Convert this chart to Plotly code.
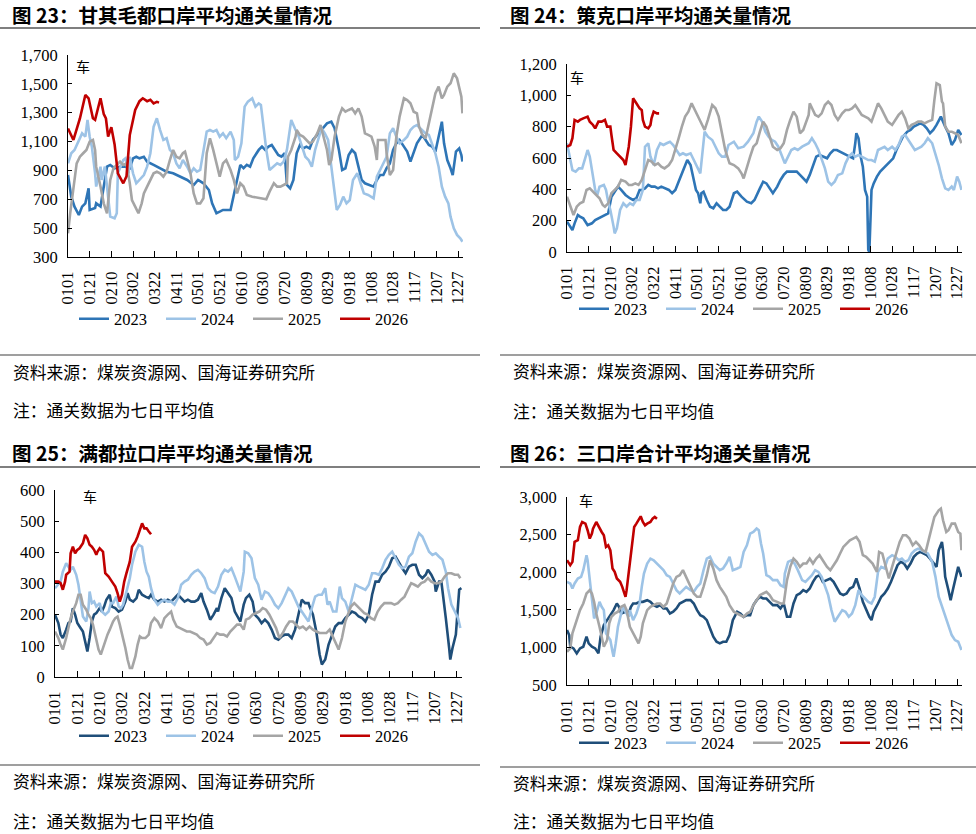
import plotly.graph_objects as go

W, H = 976, 834

# ---------------- shared axis categories ----------------
tick_days = list(range(0, 361, 20))
tick_labels = ["0101", "0121", "0210", "0302", "0322", "0411", "0501", "0521", "0610",
               "0630", "0720", "0809", "0829", "0918", "1008", "1028", "1117", "1207", "1227"]
years = ["2023", "2024", "2025", "2026"]

# ---------------- 图23 甘其毛都 (day index from 0101, value in 车) ----------------
gq_2023_day = [0,3,6,10,13,16,19,20,25,26,30,31,34,36,39,43,48,53,57,60,63,66,70,73,79,85,91,97,103,110,
               116,120,125,130,133,137,140,143,150,153,156,159,162,165,168,171,176,179,182,185,188,191,194,197,200,202,205,208,211,214,
               217,220,223,226,231,236,239,243,246,250,253,256,259,262,265,268,271,274,279,282,285,288,291,294,297,300,303,306,310,313,
               316,319,322,327,330,333,336,339,342,345,347,350,353,355,358,361,363,364]
gq_2023_val = [868,718,649,591,649,672,776,626,640,672,650,695,834,926,938,915,926,926,915,984,995,984,995,961,938,915,891,880,857,834,
               799,834,811,764,672,603,614,626,626,730,857,938,915,938,926,984,1042,1065,1042,1065,1076,1042,1007,995,1019,799,776,834,1019,1076,
               1053,1065,1053,1111,1157,1203,1226,1238,1192,1042,903,915,1007,1042,1019,926,834,811,799,788,834,868,868,915,949,1042,1088,1111,1065,1030,
               961,1019,1088,1146,1111,1076,1065,1030,1134,1238,1088,972,915,868,1030,1053,1007,961]
gq_2024_day = [0,3,6,10,13,16,18,20,22,25,26,30,31,34,36,39,43,45,46,51,53,56,57,60,63,66,70,73,76,79,
               82,85,88,91,94,97,100,103,106,110,113,116,119,122,125,128,131,134,137,140,143,146,150,153,154,157,160,163,166,170,
               173,176,178,180,183,186,190,193,196,199,202,206,210,213,216,219,222,225,228,231,234,237,240,243,246,248,251,254,257,260,
               263,267,270,273,277,282,285,288,291,294,297,300,303,306,310,313,316,319,322,327,330,333,336,339,342,345,348,351,353,356,
               359,362,364]
gq_2024_val = [949,1019,1042,1111,1157,1134,1250,1134,1065,880,788,926,834,926,788,580,568,603,880,972,984,880,995,880,811,834,868,926,1019,1203,
               1261,1180,1111,1123,1042,1019,949,915,972,926,880,915,891,903,1042,1169,1180,1169,1180,1134,1157,1123,1169,1111,972,995,1088,1342,1377,1400,
               1342,1365,1354,1226,1042,903,926,949,938,961,1042,1250,1180,1134,1065,995,972,926,1042,1111,1192,1157,1111,926,718,626,661,718,672,695,
               834,880,811,741,730,707,857,903,949,995,1157,1192,1134,1088,1111,1134,1180,1203,1215,1180,1157,1146,1088,1019,926,788,718,672,580,499,
               453,430,406]
gq_2025_day = [0,2,8,11,14,17,20,23,25,26,30,33,36,37,39,42,45,48,51,54,57,59,62,65,68,70,73,76,79,82,
               85,88,91,94,97,100,103,106,108,110,113,116,119,122,125,128,131,134,137,140,143,146,150,153,156,159,162,165,170,178,
               180,183,186,190,193,196,199,202,203,206,210,211,214,217,220,223,226,230,233,236,239,241,243,246,250,253,256,259,262,265,
               268,271,274,277,280,283,285,286,290,293,294,297,300,303,306,310,313,316,319,322,324,327,330,333,336,339,342,345,347,350,
               353,356,359,362,363,364]
gq_2025_val = [464,603,949,995,1019,1042,1100,1111,1042,926,788,672,603,695,834,915,938,961,938,949,811,695,649,603,672,741,788,834,880,891,
               880,857,891,972,1042,995,984,1019,1030,972,880,741,672,672,707,1019,1123,1042,949,857,949,972,903,834,741,811,788,730,718,707,
               707,700,753,811,788,788,799,811,995,1042,1134,1180,1146,1134,1111,1088,1100,1157,1215,1134,1042,938,972,1134,1273,1330,1307,1319,1330,1296,
               1330,1273,1157,1146,1134,1065,972,1111,1111,1111,1019,868,903,1134,1273,1400,1388,1365,1307,1296,1203,1146,1123,1226,1342,1434,1481,1400,1423,1481,
               1504,1573,1538,1434,1411,1296]
gq_2026_day = [0,5,11,16,19,23,25,30,33,35,37,40,43,46,51,54,57,62,66,69,73,76,79,82,84]
gq_2026_val = [1190,1111,1260,1423,1400,1261,1250,1400,1290,1260,1134,1200,1080,880,811,860,1145,1319,1380,1400,1380,1390,1365,1375,1370]

# ---------------- 图24 策克 ----------------
ck_2023_day = [0,3,5,7,10,12,15,19,23,26,29,32,35,38,41,44,47,50,54,58,61,64,67,69,72,75,78,81,84,87,
               90,94,97,100,103,106,109,111,114,116,119,121,123,124,126,129,132,135,138,141,144,147,
               150,154,157,161,166,170,173,178,181,184,187,190,194,197,200,203,206,209,212,215,218,221,224,227,230,233,236,240,243,246,
               249,252,255,258,261,264,266,267,269,271,273,275,277,278,279,280,281,283,286,289,292,295,298,301,304,307,310,314,317,320,
               323,326,329,332,335,338,341,345,349,352,355,358,361,364]
ck_2023_val = [194,162,140,183,236,226,215,172,183,204,215,226,236,247,353,385,417,396,364,343,332,343,396,396,406,428,417,417,406,417,
               406,396,375,396,449,502,555,587,555,481,396,375,311,375,385,332,289,279,311,289,268,268,
               289,375,385,353,321,311,332,406,449,438,406,375,417,460,492,513,513,513,513,492,470,449,492,555,609,619,609,598,630,651,
               651,641,630,619,609,598,694,758,726,609,545,396,353,13,0,226,396,438,481,513,534,555,577,598,651,694,736,768,779,800,
               811,821,811,789,758,779,811,864,800,758,683,715,779,747]
ck_2024_day = [0,3,5,8,11,14,17,19,21,24,26,28,30,34,36,38,40,43,44,46,49,52,55,58,61,64,67,70,72,75,
               77,80,83,86,89,92,95,98,101,104,107,110,114,117,120,123,127,130,134,137,140,143,146,149,
               154,158,163,167,172,175,177,180,183,186,189,192,195,198,201,204,207,210,213,217,220,223,226,229,232,235,238,241,244,247,
               250,254,257,260,263,266,269,272,275,278,281,284,287,290,293,296,300,303,306,309,312,315,318,321,324,327,330,333,337,340,
               343,346,349,352,355,357,360,362,364]
ck_2024_val = [694,587,523,513,534,534,609,651,609,481,396,364,417,428,396,321,268,162,119,151,268,311,289,311,300,332,332,396,672,694,
               609,555,651,694,683,694,704,683,651,619,630,619,630,587,545,502,768,736,715,672,630,609,609,683,
               704,662,672,704,758,832,864,832,768,736,715,704,672,619,566,609,651,662,651,672,683,694,726,694,651,587,534,449,428,449,
               492,502,566,609,630,609,619,609,598,587,587,577,651,662,672,651,672,651,683,736,747,715,683,651,662,672,694,726,694,630,
               555,470,406,396,417,396,481,449,396]
ck_2025_day = [0,3,6,9,12,15,18,21,24,27,30,33,35,38,41,44,47,50,54,57,60,63,66,69,72,75,78,81,84,87,
               90,94,97,100,103,106,109,112,115,118,121,124,127,130,134,137,140,143,146,
               150,154,158,161,163,166,169,172,175,178,181,184,187,190,194,197,200,203,206,209,212,215,218,221,223,224,226,229,232,235,
               238,241,244,247,250,254,257,260,263,266,269,272,275,278,281,284,287,290,293,296,300,303,306,309,312,315,318,321,324,327,
               330,333,337,339,341,344,346,347,349,352,355,358,361,364]
ck_2025_val = [353,289,236,289,311,321,396,406,385,364,343,300,289,311,375,396,417,460,449,428,428,438,428,460,523,587,577,555,566,545,
               534,555,587,651,726,800,864,896,949,906,864,821,779,843,938,917,864,758,651,
               566,555,534,502,470,545,609,672,694,768,832,800,736,672,651,662,694,779,843,896,864,758,779,843,875,949,917,875,864,885,
               938,960,938,875,843,885,906,906,917,938,906,875,864,853,832,885,949,917,875,832,811,843,875,896,853,789,811,821,832,832,
               821,832,843,970,1077,1066,960,949,800,768,768,758,747,694]
ck_2026_day = [0,3,5,7,10,12,15,19,21,24,26,29,32,35,37,40,41,43,46,49,52,54,57,59,61,64,67,69,70,72,75,77,78,80,83,85]
ck_2026_val = [672,683,726,843,832,843,853,864,832,811,789,832,832,843,800,800,747,651,630,609,587,555,672,800,981,949,917,906,843,800,
               789,811,853,896,885,885]

# ---------------- 图25 满都拉 ----------------
mdl_2023_day = [0,3,5,7,10,12,14,16,18,20,22,25,27,29,31,33,35,37,40,42,44,46,49,51,54,57,60,63,65,67,
                70,73,75,78,81,84,86,89,92,95,98,101,104,107,110,113,116,119,122,125,128,131,133,136,139,142,145,146,149,152,
                155,158,161,
                166,169,171,174,177,179,182,185,188,191,194,197,200,203,206,209,212,215,218,221,224,227,228,231,234,237,239,242,245,248,
                251,254,257,260,263,266,269,272,275,278,281,284,287,290,293,296,299,302,305,308,311,314,317,320,323,326,329,332,334,337,
                340,341,344,346,348,350,353,354,356,359,361,362,364]
mdl_2023_val = [200,173,136,125,152,173,178,221,200,173,162,146,114,82,125,178,200,205,221,210,226,248,264,226,221,210,216,242,269,248,
                242,253,280,264,258,253,264,248,242,248,242,248,242,253,264,253,242,248,242,242,248,269,242,216,184,200,221,210,253,285,
                269,253,210,
                178,232,253,264,242,200,189,173,184,173,152,125,120,130,136,136,125,152,200,248,237,237,226,200,146,72,40,56,104,130,
                162,173,173,189,200,210,205,194,189,178,200,264,306,306,328,338,354,381,386,365,349,333,354,360,360,328,317,328,344,328,
                306,274,306,306,253,189,93,56,93,136,232,280,285]
mdl_2024_day = [0,3,5,7,10,12,14,16,19,21,23,25,28,30,31,33,35,37,40,42,45,48,50,52,55,57,59,61,64,67,
                69,72,75,78,80,82,84,86,89,92,95,98,101,104,107,110,113,116,119,122,125,128,131,134,137,140,143,146,149,152,
                155,158,161,
                166,169,170,173,176,179,182,185,188,191,194,197,200,203,206,209,212,215,218,221,224,227,230,233,236,239,242,244,246,249,
                252,255,257,260,263,266,269,272,275,278,281,284,287,290,293,296,299,302,305,308,311,314,317,320,323,326,329,332,335,338,
                341,344,347,350,352,355,358,361,363]
mdl_2024_val = [285,296,306,338,365,354,344,354,328,296,242,194,178,221,274,237,242,226,237,210,200,210,237,237,258,226,221,232,274,317,
                360,402,424,418,370,338,322,285,248,232,242,248,242,242,232,253,296,306,312,328,338,344,333,317,285,274,269,290,328,344,
                338,349,322,
                274,338,402,397,381,317,296,248,274,269,253,232,221,237,264,285,274,248,226,210,194,178,221,258,264,264,285,232,242,210,
                210,290,253,242,210,253,296,290,285,280,296,333,333,328,349,376,392,402,381,360,349,354,386,397,434,461,451,424,402,392,
                397,386,376,338,285,232,210,189,157]
mdl_2025_day = [0,3,5,7,10,12,14,16,19,21,23,25,28,30,32,34,37,39,41,43,45,47,49,52,54,56,58,61,63,65,
                67,69,72,74,76,78,81,84,86,89,92,95,98,101,104,106,109,112,115,118,121,124,127,130,133,136,139,142,145,148,
                151,154,157,160,163,
                166,169,171,174,177,180,183,186,189,192,195,198,201,204,207,210,213,216,219,222,225,228,231,234,237,240,243,246,249,252,
                254,257,260,263,265,268,271,274,277,280,283,286,289,292,295,298,301,304,307,310,313,316,319,322,325,328,331,334,337,340,
                343,346,349,352,355,358,361,363]
mdl_2025_val = [146,125,104,88,125,162,189,210,237,264,264,232,216,200,189,168,125,88,72,93,120,136,152,178,189,194,168,125,93,56,
                29,29,66,104,130,125,125,136,173,189,178,157,189,200,210,184,162,157,152,146,146,141,136,125,120,104,109,125,141,136,
                136,130,146,157,168,
                168,152,184,189,200,205,210,221,216,200,178,157,125,141,162,178,178,168,157,162,152,162,152,146,141,141,141,152,125,104,
                88,125,178,210,226,237,226,216,205,200,189,184,210,226,237,237,237,232,237,248,258,280,301,296,290,301,306,317,306,301,
                301,306,322,333,333,328,328,317]
mdl_2026_day = [0,3,5,7,9,10,13,14,16,18,20,22,25,27,29,31,33,35,37,38,40,43,45,48,51,54,56,58,60,62,64,67,69,72,74,76,78,80,82,84,86]
mdl_2026_val = [306,306,301,280,306,328,338,397,418,397,408,413,429,456,445,424,418,408,392,402,413,402,333,322,306,290,269,242,264,306,
                333,370,418,434,451,472,493,477,477,467,458]

# ---------------- 图26 三口岸合计 ----------------
sk_2023_day = [0,2,3,6,9,12,15,18,20,23,26,29,31,34,37,40,43,46,48,50,54,57,59,61,64,67,70,74,77,80,
               83,86,89,92,95,98,101,104,107,110,114,117,120,123,126,129,132,135,138,141,144,147,
               150,153,157,160,163,166,169,172,175,178,181,184,187,190,194,197,200,203,206,209,212,215,218,221,224,227,230,233,236,240,
               243,246,249,252,255,258,261,264,267,270,273,276,279,281,283,287,290,293,296,299,302,305,308,311,314,317,320,323,326,329,
               332,335,339,341,343,346,347,349,352,354,356,358,361,364]
sk_2023_val = [1230,1164,1009,987,920,987,1009,1142,1053,1009,987,920,1142,1296,1363,1429,1496,1584,1540,1451,1474,1451,1540,1584,1584,1606,1606,1628,1606,1562,
               1540,1562,1518,1518,1451,1474,1518,1584,1606,1628,1628,1584,1496,1429,1407,1363,1252,1142,1075,1053,1075,1075,
               1164,1363,1474,1451,1407,1429,1429,1562,1628,1673,1650,1650,1606,1562,1562,1518,1584,1407,1407,1584,1695,1717,1761,1739,1783,1872,1938,1960,1872,1894,
               1916,1872,1783,1717,1695,1717,1783,1805,1916,1783,1606,1496,1407,1363,1474,1584,1673,1717,1783,1872,1982,2093,2137,2115,2049,2115,2204,2248,2270,2248,
               2226,2181,2115,2071,2292,2403,2292,1938,1761,1628,1761,1894,2071,1938]
sk_2024_day = [0,3,5,7,10,13,15,18,19,21,23,25,27,30,32,34,36,38,40,42,43,45,47,50,52,54,57,58,61,64,
               67,69,71,74,77,80,83,86,89,92,95,98,101,104,107,110,114,117,120,123,126,129,132,135,138,141,144,147,
               150,153,157,160,163,166,169,172,175,177,179,181,184,187,190,194,197,200,201,204,207,210,213,217,220,223,226,229,232,235,
               238,241,244,247,250,254,257,260,263,266,269,272,275,278,281,284,287,290,293,296,300,303,306,309,312,315,318,321,324,327,
               330,333,337,340,343,346,349,352,355,358,361,364]
sk_2024_val = [1872,1850,1783,1850,1916,1938,2027,2226,2159,1894,1717,1385,1451,1606,1540,1496,1186,1142,1097,942,876,1053,1274,1451,1540,1474,1407,1496,1363,1451,
               1584,1805,1982,2115,2181,2159,2115,2071,2027,1960,1938,1850,1761,1717,1761,1805,1761,1739,1805,1850,2027,2181,2204,2115,2071,2027,2049,2115,
               2204,2027,2049,2071,2270,2358,2513,2535,2580,2558,2381,2248,1960,1938,1894,1894,1827,1805,1982,2137,2159,2115,2027,1894,1872,1916,1960,2027,2004,1938,
               1805,1695,1496,1341,1407,1496,1474,1407,1451,1562,1761,1695,1650,1606,1584,1673,2004,2071,2049,2181,2226,2204,2159,2181,2137,2159,2248,2292,2314,2292,
               2270,2248,2137,1938,1673,1540,1407,1274,1164,1097,1075,965]
sk_2025_day = [0,3,5,7,10,12,15,18,21,23,25,27,30,32,34,37,39,41,44,47,50,53,55,58,61,64,66,68,70,74,
               77,80,83,86,89,92,95,98,101,104,107,110,114,117,120,123,126,129,132,135,138,141,144,147,
               150,154,157,160,163,166,169,172,175,178,181,184,187,190,194,197,200,203,206,209,212,215,218,221,224,227,230,233,236,240,
               243,246,249,252,255,258,261,264,267,270,273,276,279,282,286,288,291,294,297,300,304,307,310,313,316,319,322,325,328,331,
               334,337,339,343,345,347,350,352,355,358,361,363,364]
sk_2025_val = [942,987,1186,1274,1407,1496,1584,1717,1761,1717,1606,1451,1274,1142,1009,1097,1319,1407,1451,1474,1540,1562,1496,1274,1186,1097,1053,1142,1319,1496,
               1540,1562,1584,1584,1540,1584,1717,1850,1938,1960,2027,1938,1827,1717,1673,1673,1805,1960,2159,2049,1894,1805,1739,1673,
               1562,1474,1451,1429,1407,1451,1474,1562,1628,1695,1717,1739,1695,1628,1606,1584,1584,1894,2071,2181,2137,2071,2115,2115,2181,2115,2181,2226,2159,2071,
               2027,2093,2159,2248,2336,2381,2425,2447,2469,2403,2226,2204,2159,2115,2004,2270,2248,2071,1916,2071,2248,2403,2491,2491,2447,2358,2403,2358,2292,2270,
               2447,2602,2735,2823,2845,2690,2535,2558,2646,2646,2535,2513,2292]
sk_2026_day = [0,3,5,7,10,12,14,17,19,21,23,24,27,30,32,34,36,38,40,42,44,46,49,51,54,55,57,60,62,64,67,68,70,72,74,77,79,81,83]
sk_2026_val = [2159,2093,2137,2403,2425,2602,2668,2646,2558,2447,2513,2580,2668,2580,2535,2491,2336,2358,2292,2049,2004,1916,1872,1805,1673,1761,1982,2336,2602,2646,
               2712,2743,2668,2624,2646,2668,2712,2735,2712]

# ---------------- texts ----------------
titles = ["图 23：甘其毛都口岸平均通关量情况", "图 24：策克口岸平均通关量情况",
          "图 25：满都拉口岸平均通关量情况", "图 26：三口岸合计平均通关量情况"]
source_text = "资料来源：煤炭资源网、国海证券研究所"
note_text = "注：通关数据为七日平均值"
unit_text = "车"

# ---------------- styling ----------------
col_top = ["#2E75B6", "#9DC3E6", "#A5A5A5", "#C00000"]
col_bot = ["#1F4E79", "#9DC3E6", "#A5A5A5", "#C00000"]
SERIF = "Liberation Serif"
CJK = "Noto Sans CJK SC"


def px(x):
    return x / W


def py(y):
    return 1 - y / H


panels = [
    dict(series=[(gq_2023_day, gq_2023_val), (gq_2024_day, gq_2024_val), (gq_2025_day, gq_2025_val), (gq_2026_day, gq_2026_val)],
         colors=col_top, box=(68, 463, 55, 257), yr=(300, 1700), dt=200,
         title_xy=(10, 14), tline=28, legend_xy=(74, 319), unit_xy=(83, 66),
         sep=355, src_y=372, note_y=410, left=0, right=480),
    dict(series=[(ck_2023_day, ck_2023_val), (ck_2024_day, ck_2024_val), (ck_2025_day, ck_2025_val), (ck_2026_day, ck_2026_val)],
         colors=col_top, box=(567, 962, 64, 252), yr=(0, 1200), dt=200,
         title_xy=(508, 14), tline=28, legend_xy=(574, 309), unit_xy=(577, 77),
         sep=355, src_y=371, note_y=411, left=500, right=976),
    dict(series=[(mdl_2023_day, mdl_2023_val), (mdl_2024_day, mdl_2024_val), (mdl_2025_day, mdl_2025_val), (mdl_2026_day, mdl_2026_val)],
         colors=col_bot, box=(55, 462, 490, 677), yr=(0, 600), dt=100,
         title_xy=(10, 453), tline=467, legend_xy=(74, 736), unit_xy=(90, 496),
         sep=765, src_y=781, note_y=821, left=0, right=480),
    dict(series=[(sk_2023_day, sk_2023_val), (sk_2024_day, sk_2024_val), (sk_2025_day, sk_2025_val), (sk_2026_day, sk_2026_val)],
         colors=col_bot, box=(567, 962, 497, 685), yr=(500, 3000), dt=500,
         title_xy=(508, 453), tline=467, legend_xy=(574, 743), unit_xy=(586, 500),
         sep=767, src_y=783, note_y=821, left=500, right=976),
]

fig = go.Figure()
layout = dict(width=W, height=H, margin=dict(l=0, r=0, t=0, b=0, autoexpand=False),
              paper_bgcolor="white", plot_bgcolor="white", showlegend=True)
annotations = []
shapes = []

for i, p in enumerate(panels):
    n = "" if i == 0 else str(i + 1)
    xa, ya = "x" + n, "y" + n
    lg = "legend" + n
    for (d, v), yr_name, c in zip(p["series"], years, p["colors"]):
        m = min(len(d), len(v))
        fig.add_trace(go.Scatter(x=d[:m], y=v[:m], mode="lines", name=yr_name,
                                 line=dict(color=c, width=2.6), xaxis=xa, yaxis=ya,
                                 legend=lg, showlegend=True, hoverinfo="skip"))
    x0, x1, y0, y1 = p["box"]
    layout["xaxis" + n] = dict(domain=[px(x0), px(x1)], anchor=ya, range=[0, 364.5],
                               tickmode="array", tickvals=tick_days, ticktext=tick_labels,
                               tickangle=-90, ticks="inside", ticklen=6, tickcolor="black",
                               showline=True, linecolor="black", linewidth=1,
                               showgrid=False, zeroline=False, automargin=False,
                               tickfont=dict(family=SERIF, size=16.5, color="black"),
                               ticklabelstandoff=7)
    layout["yaxis" + n] = dict(domain=[py(y1), py(y0)], anchor=xa, range=list(p["yr"]),
                               dtick=p["dt"], tick0=p["yr"][0], tickformat=",",
                               ticks="inside", ticklen=4, tickcolor="black",
                               showline=True, linecolor="black", linewidth=1,
                               showgrid=False, zeroline=False, automargin=False,
                               tickfont=dict(family=SERIF, size=16.5, color="black"),
                               ticklabelstandoff=6)
    lx, ly = p["legend_xy"]
    layout[lg] = dict(orientation="h", x=px(lx), y=py(ly), xanchor="left", yanchor="middle",
                      xref="paper", yref="paper", bgcolor="rgba(0,0,0,0)",
                      font=dict(family=SERIF, size=16.5, color="black"),
                      entrywidth=42, itemclick=False, itemdoubleclick=False)
    tx, ty = p["title_xy"]
    annotations.append(dict(x=px(tx), y=py(ty), xref="paper", yref="paper", xanchor="left", yanchor="middle",
                            text="<b>" + titles[i] + "</b>", showarrow=False,
                            font=dict(family=CJK, size=19.5, color="black")))
    ux, uy = p["unit_xy"]
    annotations.append(dict(x=px(ux), y=py(uy), xref="paper", yref="paper", xanchor="center", yanchor="middle",
                            text=unit_text, showarrow=False, font=dict(family=CJK, size=14, color="black")))
    annotations.append(dict(x=px(p["left"] + 11), y=py(p["src_y"]), xref="paper", yref="paper",
                            xanchor="left", yanchor="middle", text=source_text, showarrow=False,
                            font=dict(family=CJK, size=16.8, color="black")))
    annotations.append(dict(x=px(p["left"] + 11), y=py(p["note_y"]), xref="paper", yref="paper",
                            xanchor="left", yanchor="middle", text=note_text, showarrow=False,
                            font=dict(family=CJK, size=16.8, color="black")))
    shapes.append(dict(type="line", xref="paper", yref="paper", x0=px(p["left"]), x1=px(p["right"]),
                       y0=py(p["tline"]), y1=py(p["tline"]), line=dict(color="#7F7F7F", width=2)))
    shapes.append(dict(type="line", xref="paper", yref="paper", x0=px(p["left"]), x1=px(p["right"]),
                       y0=py(p["sep"]), y1=py(p["sep"]), line=dict(color="#7F7F7F", width=1.5)))

layout["annotations"] = annotations
layout["shapes"] = shapes
fig.update_layout(**layout)
fig.write_html("out.html", config={"displayModeBar": False},
               post_script="document.body.style.margin='0';document.body.style.padding='0';"
                           "document.documentElement.style.overflow='hidden';")
